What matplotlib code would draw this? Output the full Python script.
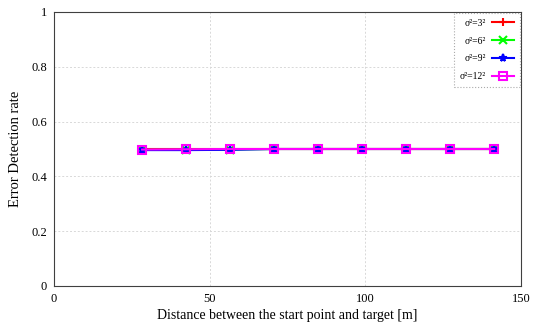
import matplotlib
matplotlib.use("Agg")
import matplotlib.pyplot as plt

plt.rcParams['font.family'] = ['Liberation Serif', 'DejaVu Serif']

distance = [28.3, 42.4, 56.6, 70.7, 84.9, 99.0, 113.1, 127.3, 141.4]
rate_3 = [0.500, 0.500, 0.500, 0.500, 0.500, 0.500, 0.500, 0.500, 0.500]
rate_6 = [0.497, 0.497, 0.498, 0.500, 0.500, 0.500, 0.500, 0.500, 0.500]
rate_9 = [0.496, 0.496, 0.497, 0.500, 0.500, 0.500, 0.500, 0.500, 0.500]
rate_12 = [0.498, 0.499, 0.500, 0.500, 0.500, 0.500, 0.500, 0.500, 0.500]

labels = ['σ²=3²', 'σ²=6²', 'σ²=9²', 'σ²=12²']
series = [rate_3, rate_6, rate_9, rate_12]
colors = ['#ff0000', '#00ff00', '#0000ff', '#ff00ff']
markers = ['+', 'x', '*', 's']

fig = plt.figure(figsize=(5.34, 3.27), dpi=100)
ax = fig.add_axes([54/534, 41/327, 467/534, 274/327])

for y, lab, c, m in zip(series, labels, colors, markers):
    mfc = 'none' if m == 's' else c
    ax.plot(distance, y, color=c, marker=m, markersize=5.5, markerfacecolor=mfc,
            markeredgewidth=1.5, linewidth=1.5, label=lab)

ax.set_xlim(0, 150)
ax.set_ylim(0, 1)
ax.set_xticks([0, 50, 100, 150])
ax.set_yticks([0, 0.2, 0.4, 0.6, 0.8, 1])
ax.set_yticklabels(['0', '0.2', '0.4', '0.6', '0.8', '1'])
ax.tick_params(length=0, labelsize=9, pad=5)
ax.grid(True, linestyle=(0, (2, 2)), color='#d8d8d8', linewidth=0.7)
for s in ax.spines.values():
    s.set_color('#404040')

ax.set_xlabel('Distance between the start point and target [m]', fontsize=10, labelpad=3)
ax.set_ylabel('Error Detection rate', fontsize=10.5, labelpad=7)

leg = ax.legend(loc='upper right', fontsize=7, markerfirst=False, handlelength=2.3,
                handletextpad=0.6, fancybox=False, framealpha=1, borderaxespad=0.1,
                labelspacing=0.9, borderpad=0.6)
leg.get_frame().set_linestyle(':')
leg.get_frame().set_edgecolor('#aaaaaa')
leg.get_frame().set_linewidth(0.8)

fig.savefig('out.png', dpi=100)
